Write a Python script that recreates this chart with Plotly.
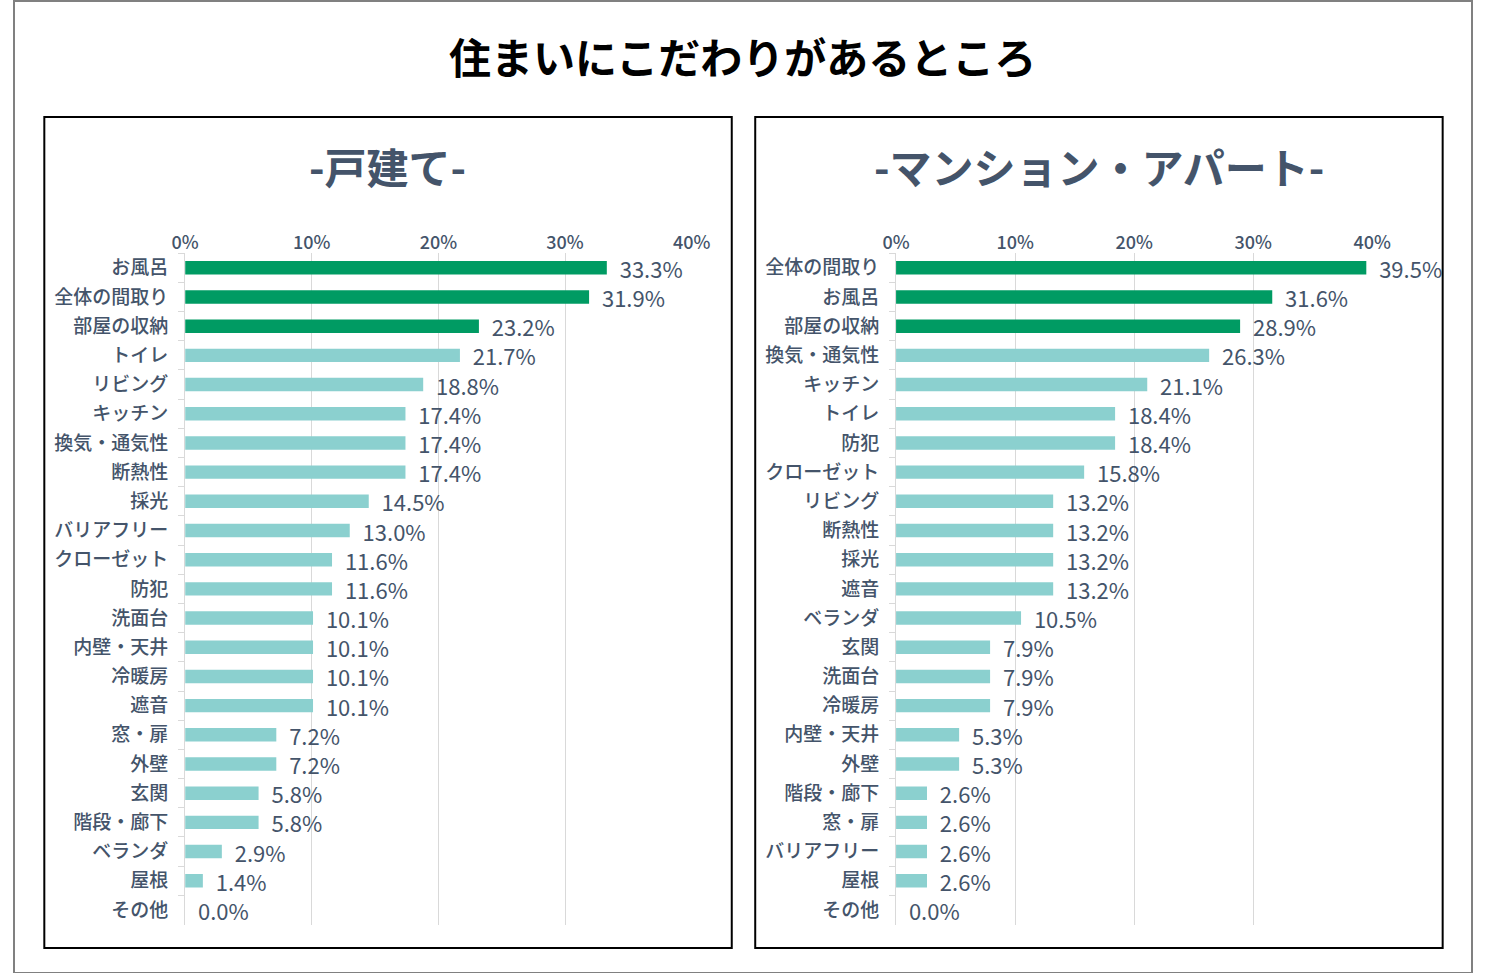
import plotly.graph_objects as go

# 戸建て
house_items = ["お風呂", "全体の間取り", "部屋の収納", "トイレ", "リビング", "キッチン",
               "換気・通気性", "断熱性", "採光", "バリアフリー", "クローゼット", "防犯",
               "洗面台", "内壁・天井", "冷暖房", "遮音", "窓・扉", "外壁", "玄関",
               "階段・廊下", "ベランダ", "屋根", "その他"]
house_values = [33.3, 31.9, 23.2, 21.7, 18.8, 17.4, 17.4, 17.4, 14.5, 13.0, 11.6, 11.6,
                10.1, 10.1, 10.1, 10.1, 7.2, 7.2, 5.8, 5.8, 2.9, 1.4, 0.0]

# マンション・アパート
apt_items = ["全体の間取り", "お風呂", "部屋の収納", "換気・通気性", "キッチン", "トイレ",
             "防犯", "クローゼット", "リビング", "断熱性", "採光", "遮音", "ベランダ",
             "玄関", "洗面台", "冷暖房", "内壁・天井", "外壁", "階段・廊下", "窓・扉",
             "バリアフリー", "屋根", "その他"]
apt_values = [39.5, 31.6, 28.9, 26.3, 21.1, 18.4, 18.4, 15.8, 13.2, 13.2, 13.2, 13.2,
              10.5, 7.9, 7.9, 7.9, 5.3, 5.3, 2.6, 2.6, 2.6, 2.6, 0.0]

x_ticks = [0, 10, 20, 30, 40]
tick_text = [f"{t}%" for t in x_ticks]

GREEN = "#009B63"
TEAL = "#8BD0CF"
TEXT = "#44546A"
FONT = "Noto Sans CJK JP"
W, H = 1491, 973


def colors(n):
    # top 3 highlighted
    return [GREEN if i < 3 else TEAL for i in range(n)]


fig = go.Figure()
for items, values, xa, ya in [
    (house_items, house_values, "x", "y"),
    (apt_items, apt_values, "x2", "y2"),
]:
    fig.add_trace(go.Bar(
        x=values, y=items, orientation="h",
        marker=dict(color=colors(len(items)), line=dict(width=0)),
        text=[f"\u00a0\u00a0{v:.1f}%" for v in values], textposition="outside",
        constraintext="none",
        textfont=dict(size=22, color=TEXT, family=FONT),
        cliponaxis=False, xaxis=xa, yaxis=ya, showlegend=False,
    ))

y_dom = [1 - 924.5 / H, 1 - 252.5 / H]
xax = dict(
    range=[0, 40], side="top", tickvals=x_ticks, ticktext=tick_text,
    showgrid=True, gridcolor="#D9D9D9", gridwidth=1, zeroline=False,
    tickfont=dict(size=18, color=TEXT, family=FONT, weight=500), ticks="",
    fixedrange=True,
)
yax = dict(
    autorange="reversed", showline=True, linecolor="#D9D9D9", linewidth=1,
    ticks="outside", tickson="boundaries", ticklen=6, tickcolor="#D9D9D9",
    tickfont=dict(size=19, color=TEXT, family=FONT, weight=500),
    ticklabelstandoff=12, fixedrange=True,
)


def title(text, x, y, size, color):
    return dict(text=f"<b>{text}</b>", xref="paper", yref="paper",
                x=x / W, y=1 - y / H, xanchor="center", yanchor="middle",
                showarrow=False, font=dict(size=size, color=color, family=FONT))


fig.update_layout(
    width=W, height=H, autosize=False, margin=dict(l=0, r=0, t=0, b=0),
    paper_bgcolor="white", plot_bgcolor="white", bargap=0.54,
    font=dict(family=FONT, color=TEXT),
    xaxis=dict(xax, domain=[175 / W, 693 / W], anchor="y"),
    yaxis=dict(yax, domain=y_dom, anchor="x"),
    xaxis2=dict(xax, domain=[902 / W, 1389 / W], anchor="y2"),
    yaxis2=dict(yax, domain=y_dom, anchor="x2"),
    shapes=[
        dict(type="rect", xref="paper", yref="paper", x0=0, x1=1, y0=0, y1=1,
             line=dict(color="#808080", width=2)),
        dict(type="rect", xref="paper", yref="paper",
             x0=31 / W, x1=734 / W, y0=1 - 948 / H, y1=1 - 116 / H,
             line=dict(color="black", width=2)),
        dict(type="rect", xref="paper", yref="paper",
             x0=758 / W, x1=1461 / W, y0=1 - 948 / H, y1=1 - 116 / H,
             line=dict(color="black", width=2)),
    ],
    annotations=[
        title("住まいにこだわりがあるところ", 745, 55, 42, "black"),
        title("-戸建て-", 382, 165, 42, TEXT),
        title("-マンション・アパート-", 1110, 165, 42, TEXT),
    ],
)

fig.write_html(
    "out.html",
    config={"responsive": False, "displayModeBar": False},
    post_script="document.body.style.margin='0';document.body.style.overflow='hidden';",
)
